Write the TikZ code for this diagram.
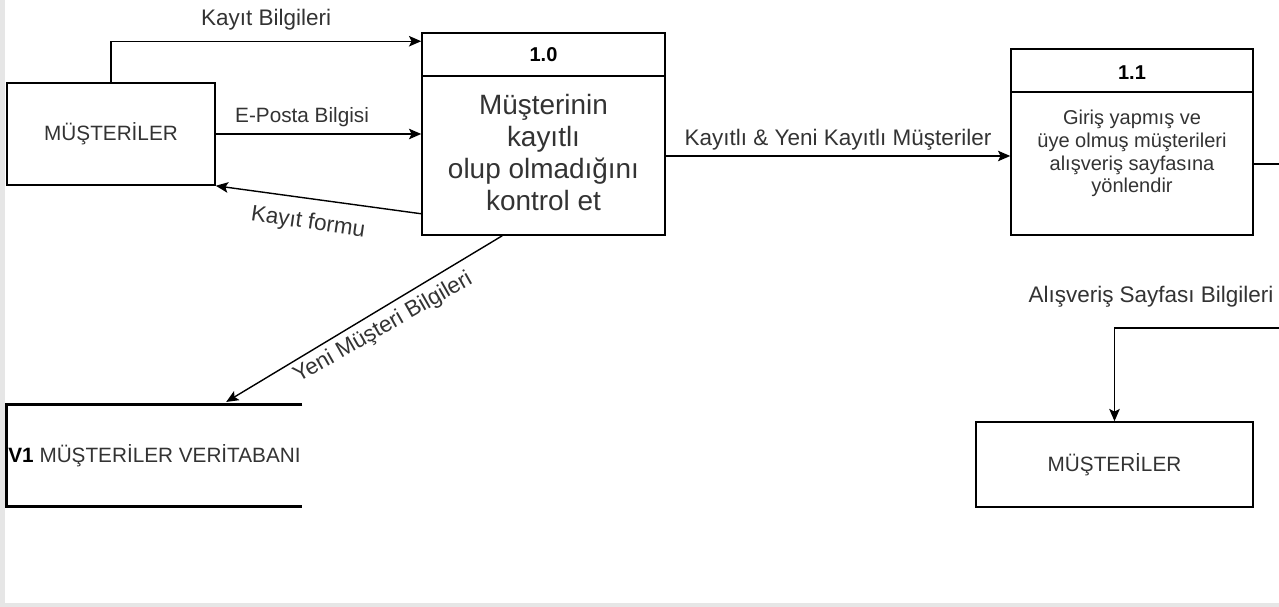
\documentclass[tikz,border=0pt]{standalone}
\usepackage{fontspec}
\setmainfont{Liberation Sans}
\usetikzlibrary{calc}
\usetikzlibrary{arrows.meta}
\definecolor{txtgray}{HTML}{333333}
\definecolor{framegray}{HTML}{E6E6E6}
\tikzset{
 box/.style={draw, line width=0.9pt, inner sep=0pt, text=txtgray, font=\fontsize{11.8}{14}\selectfont},
 lbl/.style={inner sep=0pt, text=txtgray, font=\fontsize{12.8}{15}\selectfont},
 num/.style={inner sep=0pt, text=black, font=\fontsize{11.4}{14}\selectfont\bfseries},
 flow/.style={line width=0.8pt, -{Stealth[length=7pt,width=6pt,inset=1.5pt]}},
}
\begin{document}
\begin{tikzpicture}[x=0.02cm, y=-0.02cm]
\useasboundingbox (0,0) rectangle (1279,607);
\fill[framegray] (0,0) rectangle (1279,607);
\fill[white] (5,0) rectangle (1279,603);

% dis varliklar
\node[box, minimum width=4.16cm, minimum height=2.04cm] (mus1) at (111,134) {MÜŞTERİLER};
\node[box, minimum width=5.54cm, minimum height=1.7cm] (mus2) at (1114.5,464.5) {MÜŞTERİLER};

% surec 1.0
\node[box, minimum width=4.86cm, minimum height=4.04cm] (p10) at (543.5,134) {};
\draw[line width=0.9pt] ($(p10.north west)+(0,44)$) -- ($(p10.north east)+(0,44)$);
\node[num] (p10n) at (543.5,55) {1.0};
\node[lbl, align=center, font=\fontsize{15.9}{18.3}\selectfont] (p10t) at (543.5,152.5)
 {Müşterinin\\kayıtlı\\olup olmadığını\\ kontrol et};

% surec 1.1
\node[box, minimum width=4.84cm, minimum height=3.72cm] (p11) at (1132,142) {};
\draw[line width=0.9pt] ($(p11.north west)+(0,44)$) -- ($(p11.north east)+(0,44)$);
\node[num] (p11n) at (1132,73) {1.1};
\node[lbl, align=center, font=\fontsize{11.4}{13}\selectfont] (p11t) at (1132,153.5)
 {Giriş yapmış ve\\üye olmuş müşterileri\\alışveriş sayfasına\\yönlendir};

% veri deposu
\node[lbl, minimum width=5.9cm, minimum height=2.02cm, font=\fontsize{11.8}{14}\selectfont] (v1) at (154.5,455.5)
 {\textcolor{black}{\textbf{V1}} MÜŞTERİLER VERİTABANI};
\draw[line width=1.7pt] (v1.north east) -- (v1.north west) -- (v1.south west) -- (v1.south east);

% akislar
\draw[flow] (mus1.north) |- ($(p10.north west)+(0,9)$) node[lbl, pos=0.75, above=5.8pt] (lkb) {Kayıt Bilgileri};
\draw[flow] (mus1.east) -- (p10.west) node[lbl, pos=0.42, above=3.8pt, font=\fontsize{11.8}{14}\selectfont] (lep) {E-Posta Bilgisi};
\draw[flow] ($(p10.south west)+(0,-22)$) -- (mus1.south east);
\node[lbl, rotate=-8.3] (lkf) at (308,223) {Kayıt formu};
\draw[flow, shorten >=3pt] ($(p10.south west)+(81,0)$) -- ($(v1.north west)+(215,0)$);
\node[lbl, rotate=29.7] (lym) at (383,328) {Yeni Müşteri Bilgileri};
\draw[flow] ($(p10.east)+(0,22)$) -- ($(p11.west)+(0,14)$) node[lbl, midway, above=2.6pt] (lky) {Kayıtlı \& Yeni Kayıtlı Müşteriler};

\coordinate (r1) at (1279,164);
\coordinate (r2) at (1279,328);
\draw[line width=0.8pt] ($(p11.east)+(0,22)$) -- (r1);
\draw[flow] (r2) -| (mus2.north);
\node[lbl] (las) at (1151,297) {Alışveriş Sayfası Bilgileri};
\end{tikzpicture}
\end{document}
